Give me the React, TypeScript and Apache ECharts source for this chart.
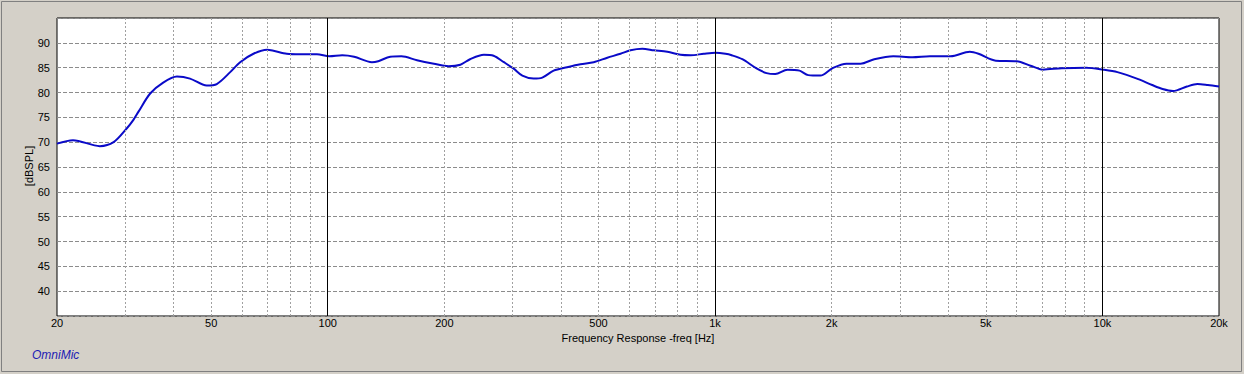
import React, { useEffect, useRef } from "react";
import * as echarts from "echarts";

// Frequency response (Hz) and level (dB SPL)
const FREQ = [
  20, 22, 25.8, 28, 30.3, 31.5, 32.5, 34.8, 37.6, 40.8, 44.1, 48.7, 51.7, 56, 59.4, 64.3, 69.7, 72.4, 78.4, 84.9, 93.8,
  101, 109, 117, 130, 135, 145, 155, 170, 188, 205, 220, 233, 253, 268, 285, 302, 318, 340, 358, 383, 415, 449, 486,
  527, 570, 605, 649, 695, 753, 815, 865, 935, 1003, 1064, 1104, 1176, 1276, 1358, 1430, 1538, 1652, 1740, 1870,
  2011, 2184, 2374, 2576, 2885, 3233, 3586, 4058, 4546, 4788, 5307, 6010, 6524, 7015, 7858, 9080, 10062, 10935,
  12376, 13444, 14304, 15222, 16526, 17590, 18710, 20000,
];
const SPL = [
  69.7, 70.4, 69.2, 70.0, 72.8, 74.5, 76.2, 79.8, 82.0, 83.2, 82.8, 81.4, 81.7, 84.1, 86.1, 87.8, 88.6, 88.4, 87.8, 87.7, 87.7,
  87.3, 87.5, 87.2, 86.1, 86.3, 87.2, 87.3, 86.5, 85.8, 85.3, 85.6, 86.7, 87.6, 87.4, 86.1, 84.8, 83.4, 82.8, 83.0, 84.4, 85.1, 85.7, 86.1,
  87.0, 87.8, 88.5, 88.8, 88.5, 88.2, 87.6, 87.5, 87.8, 88.0, 87.8, 87.5, 86.7, 84.9, 83.9, 83.7, 84.6, 84.4, 83.5, 83.4,
  84.9, 85.8, 85.8, 86.7, 87.3, 87.1, 87.3, 87.3, 88.2, 87.8, 86.4, 86.3, 85.4, 84.6, 84.9, 85.0, 84.6, 84.1,
  82.7, 81.5, 80.7, 80.3, 81.2, 81.7, 81.5, 81.2,
];

const X_LABELS = [20, 50, 100, 200, 500, 1000, 2000, 5000, 10000, 20000];
const MINOR_GRID = [
  30, 40, 50, 60, 70, 80, 90, 200, 300, 400, 500, 600, 700, 800, 900, 2000, 3000, 4000, 5000, 6000, 7000, 8000,
  9000,
];
const MAJOR_GRID = [100, 1000, 10000];

const FONT = "'Liberation Sans', Arial, sans-serif";

export default function App() {
  const ref = useRef<HTMLDivElement>(null);
  useEffect(() => {
    if (!ref.current) return;
    const chart = echarts.init(ref.current, null, { renderer: "svg" });
    const gridLines = [
      ...MINOR_GRID.map((f) => ({ xAxis: f, lineStyle: { color: "#a0a0a0", width: 1, type: [2, 2] } })),
      ...MAJOR_GRID.map((f) => ({ xAxis: f, lineStyle: { color: "#000000", width: 1, type: "solid" } })),
    ];
    chart.setOption({
      animation: false,
      backgroundColor: "#d4d0c8",
      grid: {
        left: 57,
        top: 18,
        width: 1162,
        height: 298,
        show: true,
        backgroundColor: "#ffffff",
        borderColor: "#000000",
        borderWidth: 1,
        z: 0,
      },
      xAxis: {
        type: "log",
        logBase: 10,
        min: 20,
        max: 20000,
        name: "Frequency Response -freq [Hz]",
        nameLocation: "middle",
        nameGap: 13,
        nameTextStyle: { fontFamily: FONT, fontSize: 11, color: "#000" },
        axisLine: { show: false },
        axisTick: { show: false },
        splitLine: { show: false },
        minorTick: { show: false },
        minorSplitLine: { show: false },
        axisLabel: {
          customValues: X_LABELS,
          fontFamily: FONT,
          fontSize: 11,
          color: "#000",
          margin: 1,
          formatter: (v: number) => (v >= 1000 ? `${Math.round(v / 1000)}k` : `${Math.round(v)}`),
        },
      },
      yAxis: {
        type: "value",
        min: 35,
        max: 95,
        interval: 5,
        axisLine: { show: false },
        axisTick: { show: false },
        axisLabel: {
          fontFamily: FONT,
          fontSize: 11,
          color: "#000",
          margin: 7,
          formatter: (v: number) => (v === 35 || v === 95 ? "" : `${v}`),
        },
        splitLine: { show: true, lineStyle: { color: "#8c8c8c", width: 1, type: [4, 2] } },
      },
      series: [
        {
          type: "line",
          data: [[20, 35]],
          showSymbol: false,
          symbol: "none",
          lineStyle: { opacity: 0 },
          silent: true,
          z: 1,
          markLine: {
            silent: true,
            symbol: "none",
            label: { show: false },
            emphasis: { disabled: true },
            animation: false,
            data: gridLines,
          },
        },
        {
          type: "line",
          data: FREQ.map((f, i) => [f, SPL[i]]),
          smooth: 0.3,
          showSymbol: false,
          symbol: "none",
          lineStyle: { color: "#0a0ac8", width: 2 },
          silent: true,
          z: 3,
        },
      ],
      graphic: [
        {
          type: "rect",
          shape: { x: 1.5, y: 1.5, width: 1240, height: 370 },
          style: { fill: "none", stroke: "#808080", lineWidth: 1 },
          silent: true,
        },
        {
          type: "text",
          x: 29,
          y: 166,
          rotation: Math.PI / 2,
          style: {
            text: "[dBSPL]",
            fill: "#000",
            fontFamily: FONT,
            fontSize: 11,
            align: "center",
            verticalAlign: "middle",
          },
          silent: true,
        },
        {
          type: "text",
          x: 32,
          y: 349,
          style: { text: "OmniMic", fill: "#1c1cb4", fontFamily: FONT, fontSize: 12, fontStyle: "italic" },
          silent: true,
        },
      ],
    });
    return () => chart.dispose();
  }, []);
  return <div ref={ref} style={{ position: "fixed", left: 0, top: 0, width: 1244, height: 374 }} />;
}
